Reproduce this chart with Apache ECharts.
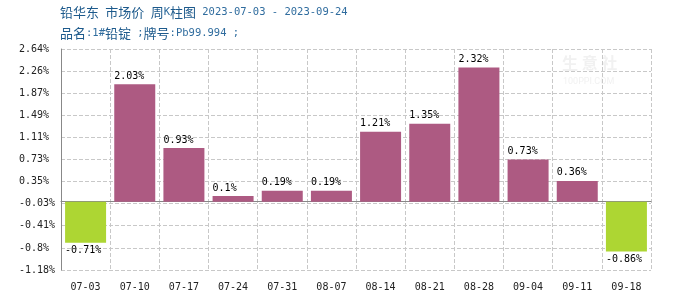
<!DOCTYPE html>
<html>
<head>
<meta charset="utf-8">
<script src="https://cdn.jsdelivr.net/npm/echarts@6/dist/echarts.min.js"></script>
<style>html,body{margin:0;padding:0;background:#fff}#c{width:700px;height:300px}</style>
</head>
<body>
<div id="c"></div>
<script>
const categories = ['07-03','07-10','07-17','07-24','07-31','08-07','08-14','08-21','08-28','09-04','09-11','09-18'];
const changes = [-0.71, 2.03, 0.93, 0.1, 0.19, 0.19, 1.21, 1.35, 2.32, 0.73, 0.36, -0.86];
const yTicks = [-1.18, -0.8, -0.41, -0.03, 0.35, 0.73, 1.11, 1.49, 1.87, 2.26, 2.64];
const titleLine1 = '铅华东 市场价 周K柱图 2023-07-03 - 2023-09-24';
const titleLine2 = '品名:1#铅锭 ;牌号:Pb99.994 ;';

const POS = '#AD5A82', NEG = '#ADD633';
const mono = 'DejaVu Sans Mono';
const cjk = '"Noto Sans CJK SC"';

// split a string into CJK / ASCII runs for rich text
function richText(s) {
  return s.match(/[\u3000-\u9fff\uff00-\uffef]+|[^\u3000-\u9fff\uff00-\uffef]+/g)
    .map(run => /[\u3000-\u9fff\uff00-\uffef]/.test(run) ? '{c|' + run + '}' : '{m|' + run + '}')
    .join('');
}
const titleRich = {
  c: {fontFamily: cjk, fontSize: 13, fill: '#1d5a8c', lineHeight: 18},
  m: {fontFamily: mono, fontSize: 10.5, fill: '#2f6c9e', lineHeight: 18}
};

const chart = echarts.init(document.getElementById('c'), null, {renderer: 'canvas'});
chart.setOption({
  animation: false,
  backgroundColor: '#fff',
  graphic: [
    {type: 'text', left: 60, top: 6, style: {text: richText(titleLine1), rich: titleRich}},
    {type: 'text', left: 60, top: 27, style: {text: richText(titleLine2), rich: titleRich}},
    {type: 'text', left: 562, top: 55, style: {text: '生 意 社', fontFamily: cjk, fontSize: 16, fontWeight: 'bold', fill: '#f1f1f1'}},
    {type: 'text', left: 563, top: 77, style: {text: '100PPI.COM', fontFamily: 'Roboto', fontSize: 9, fill: '#f1f1f1'}}
  ],
  grid: {left: 61, right: 49, top: 49, bottom: 30},
  xAxis: {
    type: 'category', data: categories, boundaryGap: true,
    axisLine: {lineStyle: {color: '#888'}},
    axisTick: {show: false},
    axisLabel: {fontFamily: mono, fontSize: 10, color: '#222', margin: 12},
    splitLine: {show: true, lineStyle: {type: 'dashed', color: '#c8c8c8'}}
  },
  yAxis: {
    type: 'value', min: yTicks[0], max: yTicks[yTicks.length - 1],
    axisLine: {show: true, lineStyle: {color: '#888'}},
    axisTick: {show: false, customValues: yTicks},
    axisLabel: {customValues: yTicks, fontFamily: mono, fontSize: 10, color: '#222', align: 'left', margin: 42,
      formatter: v => v + '%'},
    splitLine: {show: true, lineStyle: {type: 'dashed', color: '#c8c8c8'}}
  },
  series: [{
    type: 'bar', barWidth: 41,
    data: changes.map(v => ({
      value: v,
      itemStyle: {color: v >= 0 ? POS : NEG},
      label: {show: true, position: v >= 0 ? 'top' : 'bottom', align: 'left', offset: [-20.5, 0], distance: 3,
        fontFamily: mono, fontSize: 10, color: '#000', formatter: p => p.value + '%'}
    }))
  }]
});
</script>
</body>
</html>
